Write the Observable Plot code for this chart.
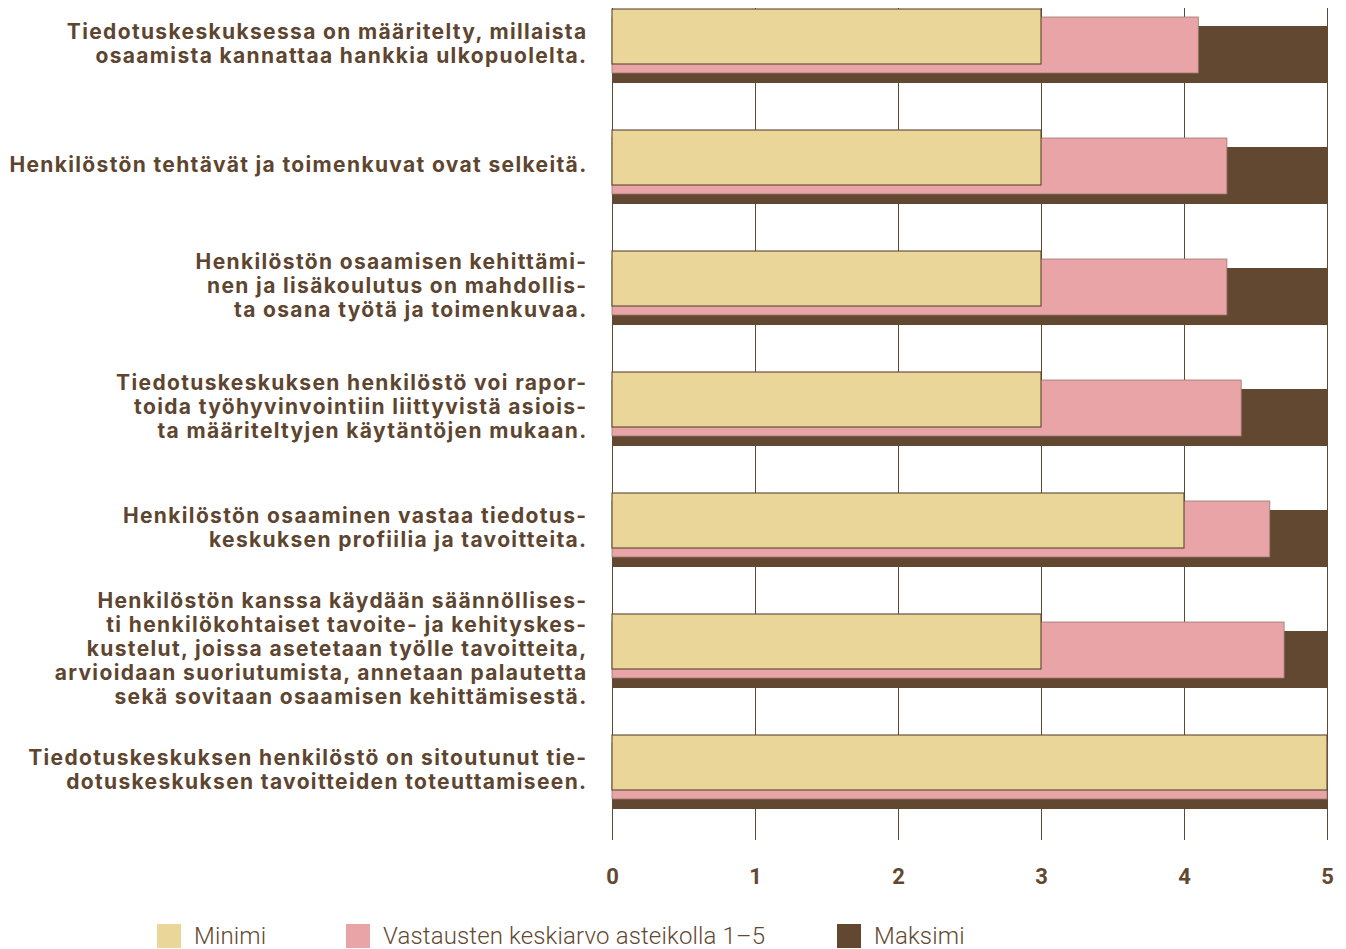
<!DOCTYPE html>
<html>
<head>
<meta charset="utf-8">
<script src="https://cdn.jsdelivr.net/npm/d3@7"></script>
<script src="https://cdn.jsdelivr.net/npm/@observablehq/plot@0.6"></script>
<style>
  html, body { margin: 0; padding: 0; background: #ffffff; }
  #wrap { position: relative; width: 1346px; height: 949px; overflow: hidden; }
  #legend { position: absolute; left: 0; top: 924px; width: 1346px; height: 30px;
    font-family: Roboto, sans-serif; font-weight: 300; font-size: 24px; color: #634831; letter-spacing: 0.15px; }
  .item { position: absolute; top: 0; display: flex; align-items: center; height: 24px; }
  .sw { width: 24px; height: 24px; margin-right: 13px; flex: none; }
  .row-label { letter-spacing: 1.35px; }
</style>
</head>
<body>
<div id="wrap">
  <div id="chart"></div>
  <div id="legend"></div>
</div>
<script>
const categories = [
  "Tiedotuskeskuksessa on määritelty, millaista\nosaamista kannattaa hankkia ulkopuolelta.",
  "Henkilöstön tehtävät ja toimenkuvat ovat selkeitä.",
  "Henkilöstön osaamisen kehittämi-\nnen ja lisäkoulutus on mahdollis-\nta osana työtä ja toimenkuvaa.",
  "Tiedotuskeskuksen henkilöstö voi rapor-\ntoida työhyvinvointiin liittyvistä asiois-\nta määriteltyjen käytäntöjen mukaan.",
  "Henkilöstön osaaminen vastaa tiedotus-\nkeskuksen profiilia ja tavoitteita.",
  "Henkilöstön kanssa käydään säännöllises-\nti henkilökohtaiset tavoite- ja kehityskes-\nkustelut, joissa asetetaan työlle tavoitteita,\narvioidaan suoriutumista, annetaan palautetta\nsekä sovitaan osaamisen kehittämisestä.",
  "Tiedotuskeskuksen henkilöstö on sitoutunut tie-\ndotuskeskuksen tavoitteiden toteuttamiseen."
];
const minimi    = [3, 3, 3, 3, 4, 3, 5];
const keskiarvo = [4.1, 4.3, 4.3, 4.4, 4.6, 4.7, 5];
const maksimi   = [5, 5, 5, 5, 5, 5, 5];
const xTicks = [0, 1, 2, 3, 4, 5];
const seriesNames = ["Minimi", "Vastausten keskiarvo asteikolla 1–5", "Maksimi"];
const seriesColors = ["#ebd699", "#e8a4a7", "#634831"];

const rows = categories.map((c, i) => ({cat: c, min: minimi[i], mean: keskiarvo[i], max: maksimi[i]}));
const brown = "#634831";

const chart = Plot.plot({
  width: 1346,
  height: 900,
  marginLeft: 612,
  marginRight: 19,
  marginTop: 8,
  marginBottom: 60,
  style: {fontFamily: "Roboto, sans-serif", fontSize: "22px", fontWeight: 700, color: brown, background: "transparent"},
  x: {domain: [0, 5], ticks: xTicks, tickSize: 0, tickPadding: 28, label: null, tickFormat: d => String(d)},
  y: {domain: categories, range: [8, 809], paddingInner: 0.389, paddingOuter: 0, axis: null},
  marks: [
    Plot.ruleX(xTicks, {x: d => d, stroke: brown, strokeWidth: 1}),
    Plot.barX(rows, {y: "cat", x1: 0, x2: "max", fill: seriesColors[2], insetTop: 17, insetBottom: 0}),
    Plot.barX(rows, {y: "cat", x1: 0, x2: "mean", fill: seriesColors[1], stroke: "#97796c", strokeWidth: 0.8, insetTop: 8, insetBottom: 10}),
    Plot.barX(rows, {y: "cat", x1: 0, x2: "min", fill: seriesColors[0], stroke: "#5c4530", strokeWidth: 1.1, insetTop: 0, insetBottom: 19}),
    Plot.text(rows, {y: "cat", x: 0, text: "cat", textAnchor: "end", dx: -25, dy: -3,
      lineHeight: 1.143, fontSize: 21, fontWeight: 700, fontFamily: "Inter, sans-serif", fill: "#5e4530"})
  ]
});
d3.select(chart).selectAll("g[aria-label='text'] text").attr("class", "row-label");
document.getElementById("chart").appendChild(chart);

const legendLefts = [157, 346, 837];
const legend = document.getElementById("legend");
seriesNames.forEach((name, i) => {
  const it = document.createElement("div");
  it.className = "item";
  it.style.left = legendLefts[i] + "px";
  const sw = document.createElement("div");
  sw.className = "sw";
  sw.style.background = seriesColors[i];
  const tx = document.createElement("span");
  tx.textContent = name;
  it.appendChild(sw);
  it.appendChild(tx);
  legend.appendChild(it);
});
</script>
</body>
</html>
